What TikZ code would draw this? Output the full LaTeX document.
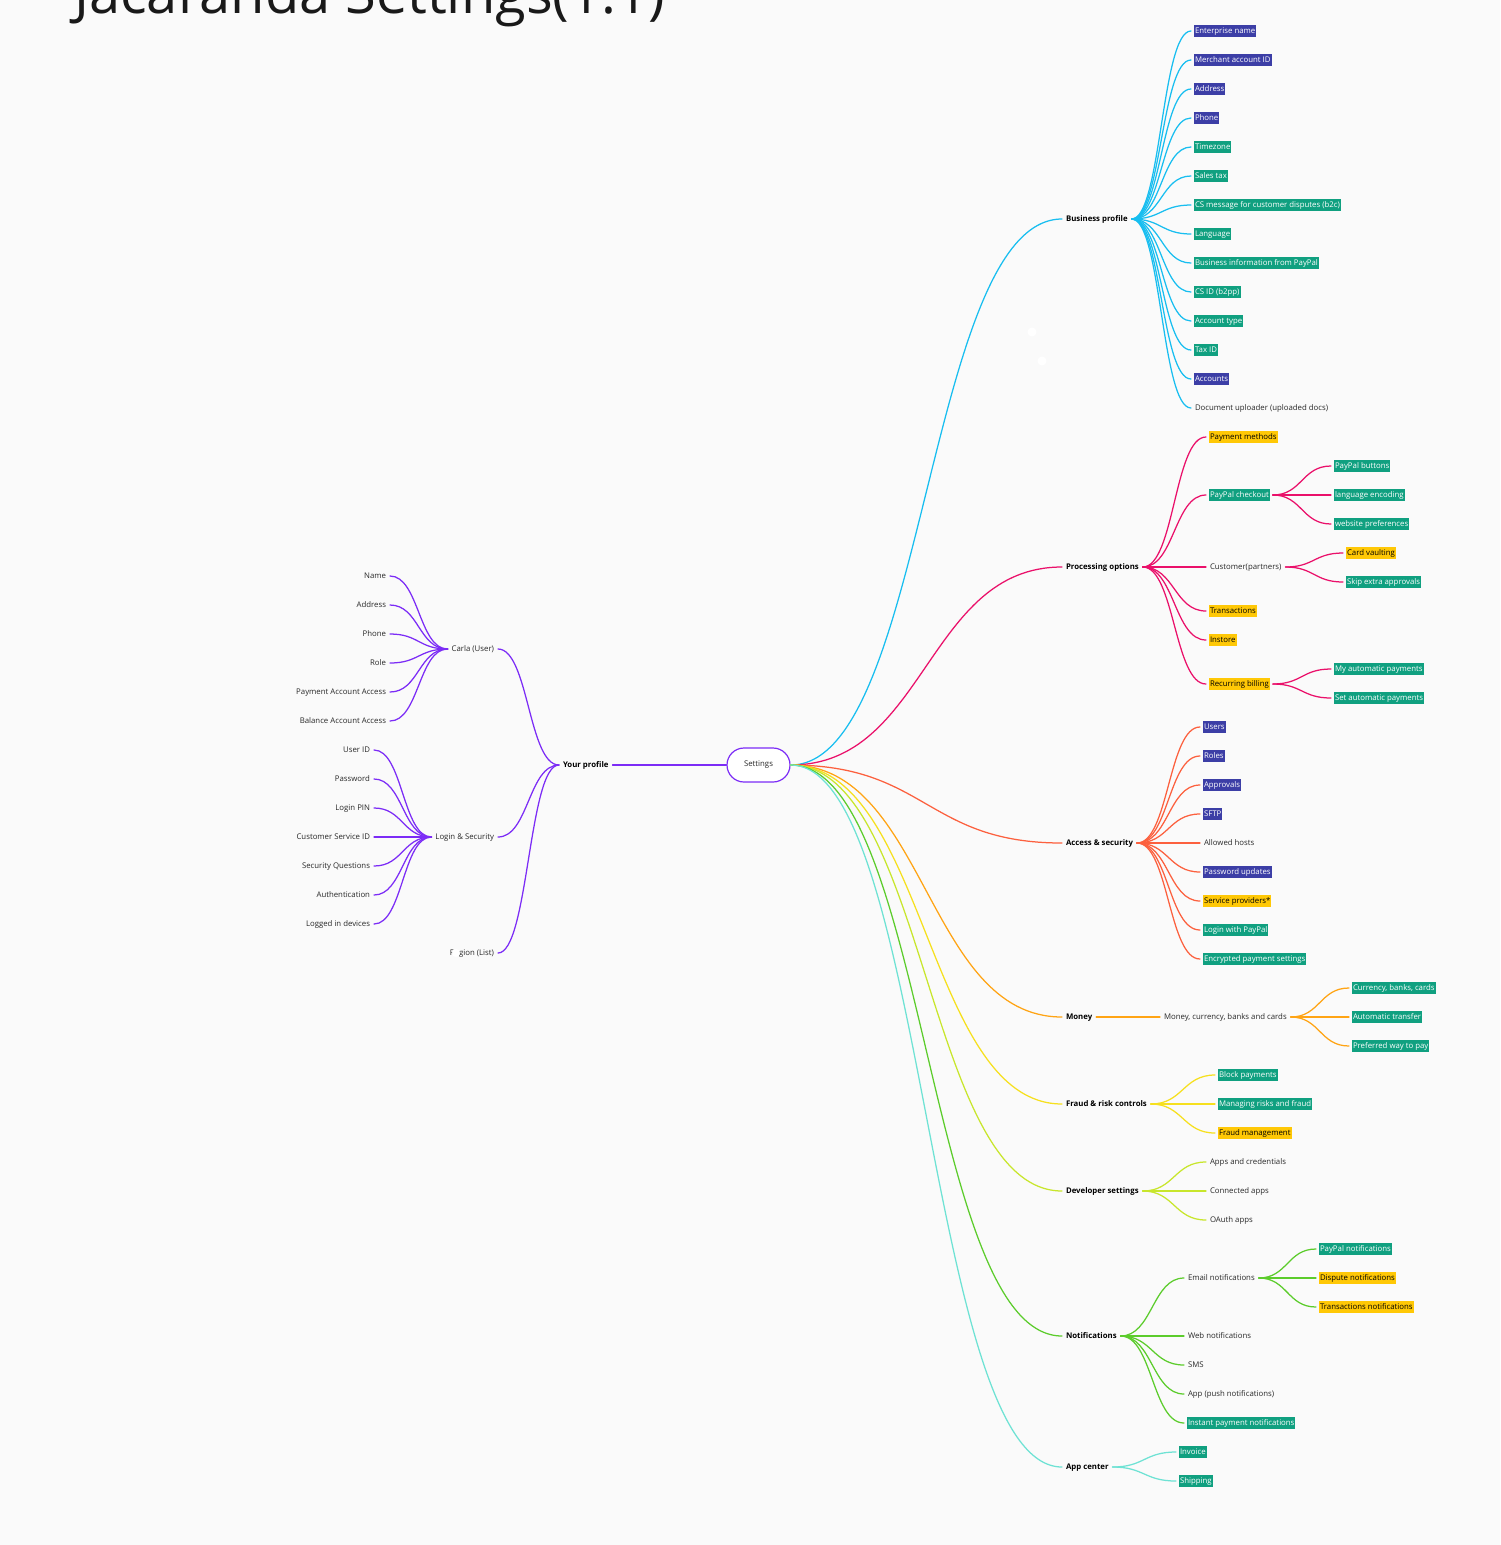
\documentclass[tikz,border=0pt]{standalone}
\usepackage{fontspec}
\setmainfont{Open Sans}
\usepackage{xcolor}
\usepackage{tikz}
\usetikzlibrary{calc}
\definecolor{jcbg}{RGB}{250,250,250}
\definecolor{jcink}{RGB}{40,40,40}
\definecolor{jcpurple}{RGB}{124,44,246}
\definecolor{jcblue}{RGB}{24,190,240}
\definecolor{jcmag}{RGB}{234,16,106}
\definecolor{jcred}{RGB}{252,96,62}
\definecolor{jcorange}{RGB}{255,164,20}
\definecolor{jcyellow}{RGB}{246,224,30}
\definecolor{jclime}{RGB}{200,230,44}
\definecolor{jcgreen}{RGB}{92,204,44}
\definecolor{jcaqua}{RGB}{110,226,212}
\definecolor{jcind}{RGB}{60,62,166}
\definecolor{jcteal}{RGB}{16,160,128}
\definecolor{jcgold}{RGB}{255,200,6}
\tikzset{
  lbl/.style={
    font=\fontsize{7.8}{10}\selectfont, text=jcink,
    inner xsep=1pt, inner ysep=2pt, outer xsep=3pt,
    text height=6pt, text depth=2pt
  },
  hnone/.style={lbl},
  hind/.style={lbl, fill=jcind, text=white},
  hteal/.style={lbl, fill=jcteal, text=white},
  hgold/.style={lbl, fill=jcgold, text=black},
  branch/.style={lbl, font=\fontsize{7.8}{10}\selectfont\bfseries, text=black},
  root/.style={
    draw=jcpurple, line width=1.2pt, fill=white, rounded corners=17pt,
    minimum width=63pt, minimum height=34pt, inner sep=0pt,
    font=\fontsize{7.8}{10}\selectfont, text=jcink
  },
  wire/.style={line width=1.25pt},
  link/.style={to path={let \p1=(\tikztostart), \p2=(\tikztotarget) in
    .. controls ({(\x1+\x2)/2},\y1) and ({(\x1+\x2)/2},\y2) .. (\tikztotarget)}},
  every picture/.append style={line cap=round}
}

\begin{document}
\begin{tikzpicture}[x=1pt,y=-1pt]
  \useasboundingbox (0,0) rectangle (1500,1545);
  \clip (0,0) rectangle (1500,1545);
  \fill[jcbg] (0,0) rectangle (1500,1545);
  \node[anchor=base west, inner sep=0pt, font=\fontsize{56}{62}\selectfont, text=black!90]
    (title) at (74,13) {Jacaranda Settings(1.1)};

  % centre
  \node[root] (settings) at (758.5,765) {Settings};

  % left side: your profile
  \node[branch, anchor=west] (yp) at (559,765) {Your profile};
  \draw[wire, jcpurple] (yp.east) -- (settings.west);
  \foreach \nm/\t/\yy in {cu/Carla (User)/649, ls/Login \& Security/837, rg/Region (List)/953} {
    \node[hnone, anchor=east] (\nm) at (498,\yy) {\t};
    \draw[wire, jcpurple] (yp.west) to[link] (\nm.east);
  }
  \foreach \t [count=\i from 0] in {Name, Address, Phone, Role,
      Payment Account Access, Balance Account Access} {
    \node[hnone, anchor=east] (cu\i) at (390,{576+29*\i}) {\t};
    \draw[wire, jcpurple] (cu.west) to[link] (cu\i.east);
  }
  \foreach \t [count=\i from 0] in {User ID, Password, Login PIN, Customer Service ID,
      Security Questions, Authentication, Logged in devices} {
    \node[hnone, anchor=east] (ls\i) at (374,{750+29*\i}) {\t};
    \draw[wire, jcpurple] (ls.west) to[link] (ls\i.east);
  }

  % right side: main branches
  \foreach \nm/\t/\yy/\c in {bp/Business profile/219/jcblue, po/Processing options/567/jcmag,
      as/Access \& security/843/jcred, mo/Money/1017/jcorange,
      fr/Fraud \& risk controls/1104/jcyellow, ds/Developer settings/1191/jclime,
      nt/Notifications/1336/jcgreen, ac/App center/1467/jcaqua} {
    \node[branch, anchor=west] (\nm) at (1062,\yy) {\t};
    \draw[wire, \c] (settings.east) to[link] (\nm.west);
  }

  % business profile
  \foreach \t/\s [count=\i from 0] in {Enterprise name/hind, Merchant account ID/hind,
      Address/hind, Phone/hind, Timezone/hteal, Sales tax/hteal,
      CS message for customer disputes (b2c)/hteal, Language/hteal,
      Business information from PayPal/hteal, CS ID (b2pp)/hteal, Account type/hteal,
      Tax ID/hteal, Accounts/hind, Document uploader (uploaded docs)/hnone} {
    \node[\s, anchor=west] (bp\i) at (1191,{31+29*\i}) {\t};
    \draw[wire, jcblue] (bp.east) to[link] (bp\i.west);
  }

  % processing options
  \foreach \nm/\t/\yy/\s in {po1/Payment methods/437/hgold, pc/PayPal checkout/495/hteal,
      cp/Customer(partners)/567/hnone, po4/Transactions/611/hgold,
      po5/Instore/640/hgold, rb/Recurring billing/684/hgold} {
    \node[\s, anchor=west] (\nm) at (1206,\yy) {\t};
    \draw[wire, jcmag] (po.east) to[link] (\nm.west);
  }
  \foreach \t [count=\i from 0] in {PayPal buttons, language encoding, website preferences} {
    \node[hteal, anchor=west] (pc\i) at (1331,{466+29*\i}) {\t};
    \draw[wire, jcmag] (pc.east) to[link] (pc\i.west);
  }
  \foreach \t/\s [count=\i from 0] in {Card vaulting/hgold, Skip extra approvals/hteal} {
    \node[\s, anchor=west] (cp\i) at (1343,{553+29*\i}) {\t};
    \draw[wire, jcmag] (cp.east) to[link] (cp\i.west);
  }
  \foreach \t [count=\i from 0] in {My automatic payments, Set automatic payments} {
    \node[hteal, anchor=west] (rb\i) at (1331,{669+29*\i}) {\t};
    \draw[wire, jcmag] (rb.east) to[link] (rb\i.west);
  }

  % access and security
  \foreach \t/\s [count=\i from 0] in {Users/hind, Roles/hind, Approvals/hind, SFTP/hind,
      Allowed hosts/hnone, Password updates/hind, Service providers*/hgold,
      Login with PayPal/hteal, Encrypted payment settings/hteal} {
    \node[\s, anchor=west] (as\i) at (1200,{727+29*\i}) {\t};
    \draw[wire, jcred] (as.east) to[link] (as\i.west);
  }

  % money
  \node[hnone, anchor=west] (mc) at (1160,1017) {Money, currency, banks and cards};
  \draw[wire, jcorange] (mo.east) -- (mc.west);
  \foreach \t [count=\i from 0] in {{Currency, banks, cards}, Automatic transfer,
      Preferred way to pay} {
    \node[hteal, anchor=west] (mc\i) at (1349,{988+29*\i}) {\t};
    \draw[wire, jcorange] (mc.east) to[link] (mc\i.west);
  }

  % fraud
  \foreach \t/\s [count=\i from 0] in {Block payments/hteal,
      Managing risks and fraud/hteal, Fraud management/hgold} {
    \node[\s, anchor=west] (fr\i) at (1215,{1075+29*\i}) {\t};
    \draw[wire, jcyellow] (fr.east) to[link] (fr\i.west);
  }

  % developer settings
  \foreach \t [count=\i from 0] in {Apps and credentials, Connected apps, OAuth apps} {
    \node[hnone, anchor=west] (ds\i) at (1206,{1162+29*\i}) {\t};
    \draw[wire, jclime] (ds.east) to[link] (ds\i.west);
  }

  % notifications
  \foreach \nm/\t/\yy/\s in {en/Email notifications/1278/hnone, nt2/Web notifications/1336/hnone,
      nt3/SMS/1365/hnone, nt4/App (push notifications)/1394/hnone,
      nt5/Instant payment notifications/1423/hteal} {
    \node[\s, anchor=west] (\nm) at (1184,\yy) {\t};
    \draw[wire, jcgreen] (nt.east) to[link] (\nm.west);
  }
  \foreach \t/\s [count=\i from 0] in {PayPal notifications/hteal,
      Dispute notifications/hgold, Transactions notifications/hgold} {
    \node[\s, anchor=west] (en\i) at (1316,{1249+29*\i}) {\t};
    \draw[wire, jcgreen] (en.east) to[link] (en\i.west);
  }

  % app center
  \foreach \t [count=\i from 0] in {Invoice, Shipping} {
    \node[hteal, anchor=west] (ac\i) at (1176,{1452+29*\i}) {\t};
    \draw[wire, jcaqua] (ac.east) to[link] (ac\i.west);
  }

  % stray white marks
  \fill[white] (456,953) circle[radius=4pt];
  \fill[white] (1032,332) circle[radius=4.5pt];
  \fill[white] (1042,361) circle[radius=4.5pt];
\end{tikzpicture}
\end{document}
